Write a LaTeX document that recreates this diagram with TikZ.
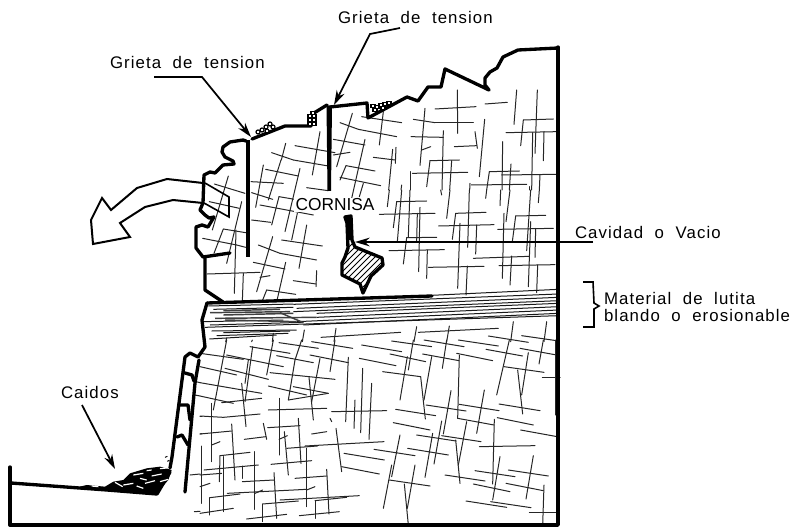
\documentclass[tikz,border=0pt]{standalone}
\usepackage{fontspec}
\setmainfont[LetterSpace=6.5,WordSpace=2]{Liberation Sans}
\usetikzlibrary{arrows.meta}
\tikzset{
  crack/.style={line width=.75pt,black!85,line cap=round},
  thickline/.style={line width=2.5pt,line join=round,line cap=round},
  midline/.style={line width=1.5pt,line join=round,line cap=round},
  leader/.style={line width=1.3pt,line join=miter,-{Stealth[length=11pt,width=6.5pt]}},
  label/.style={inner sep=0pt,outer sep=0pt,anchor=west,font=\fontsize{12.6}{13}\selectfont},
  layer/.style={line width=.75pt,black!90},
  layerb/.style={line width=1.1pt,black!75},
}
\newcommand\crackset[3]{\begin{scope}[xshift=#1*.75pt,yshift=-#2*.75pt,x=.25pt,y=-.25pt]
\foreach \a/\b/\c/\d in {#3}{\draw[crack] (\a,\b)--(\c,\d);}\end{scope}}
\begin{document}
\begin{tikzpicture}[x=.75pt,y=-.75pt]
\useasboundingbox (0,0) rectangle (795,527);
\fill[white] (0,0) rectangle (795,527);
% ---- fractures: lower block
\crackset{200}{340}{0/40/130/58,80/45/250/80,150/20/270/40,158/20/135/185,145/60/135/130,80/0/40/210,0/80/110/105,75/85/205/118,220/0/200/105,237/8/355/25,305/0/285/60,285/60/265/180,230/47/340/68,210/98/405/118,335/5/458/25,405/0/390/95,330/45/445/68,445/52/437/245,360/55/335/185,327/112/340/240,265/180/385/160,280/140/385/160,205/138/320/165,0/128/185/160,125/130/138/260,0/168/100/190,65/188/185/175,35/190/35/365,0/228/70/232,70/232/180/222,205/210/380/205,237/175/237/345,203/263/300/257,295/235/303/370,190/250/200/298,133/298/197/290,335/282/380/275,95/252/105/420,0/282/95/273,35/315/60/305,60/347/150/337,60/347/58/425,12/390/175/375,128/378/128/415,0/405/65/400,162/335/162/508,3/318/3/490,0/440/30/430,30/473/120/462,28/473/28/525,70/350/70/515,0/520/100/505,82/460/320/448,127/425/222/420,222/398/230/535,165/460/188/450,188/492/295/483,186/492/186/545,140/537/260/523,240/480/478/467,285/415/380/408,380/388/387/522,320/325/320/500,320/450/345/440,345/482/440/472,345/482/345/535,298/527/418/515,260/325/352/318,253/275/265/405,237/298/262/287,213/373/335/362,315/318/552/305,408/265/425/395,425/380/538/402,432/340/553/360,522/328/645/347,600/285/575/410,575/375/550/505,568/420/690/438,645/375/622/505,613/432/625/555,390/235/395/245,395/215/560/212,465/180/462/265,488/85/482/278,515/130/507/298,478/55/588/77,485/15/605/35,575/3/695/20,672/0/792/20,775/0/895/18,640/0/625/90,740/0/727/85,570/42/677/65,622/50/600/180,548/95/662/110,662/110/676/237,695/50/672/180,668/42/777/62,778/45/773/235,770/40/878/62,858/28/968/48,928/0/890/165,960/25/1070/45,1030/0/1017/72,985/38/965/165,953/90/968/222,912/80/1032/97,1027/113/1080/113,1065/0/1065/225,587/208/707/227,580/248/690/270,678/195/798/213,778/193/897/212,753/152/730/282,853/150/830/280,773/235/882/255,897/192/1020/212,892/233/1000/255,962/270/1072/290,725/243/702/372,698/280/675/412,650/285/768/303,725/287/843/305,623/325/745/345,767/300/780/430,800/245/775/375,883/238/878/432,838/320/1005/317,900/350/878/480,1000/347/978/477,825/392/945/410,925/390/1045/408,735/405/855/423,820/432/930/455,918/430/1030/452,1032/435/1028/555,988/517/1075/517,798/483/920/502,872/485/993/503}
% ---- short pieces above and left of that block
\crackset{190}{270}{110/205/107/215,187/210/185/215,250/190/247/215,343/180/337/215,438/175/432/215,393/202/632/187,685/187/925/175,680/170/672/215,778/168/770/215,970/155/962/215,1070/155/1062/215,895/198/1015/217,995/197/1100/212}
\crackset{0}{340}{588/125/600/128,585/165/600/168,570/405/600/402,583/515/600/514,600/228/606/228,600/282/606/281}
% ---- fractures: upper block
\crackset{340}{90}{65/80/185/98,0/98/55/118,55/118/170/140,130/65/118/165,75/148/35/325,100/202/165/210,158/178/146/300,168/172/166/220,18/227/105/243,18/227/0/270,0/262/122/287,70/280/58/320,185/285/183/300,220/88/285/98,285/98/400/98,255/55/240/226,285/57/408/50,352/0/353/130,213/140/310/142,310/122/306/300,245/180/272/170,343/170/410/167,405/125/412/175,435/42/502/37,434/88/418/260,530/0/522/103,592/0/585/190,550/90/640/87,550/90/542/167,498/128/652/125,578/128/575/300,612/125/610/212,270/212/358/210,270/212/260/290,335/212/329/300,217/250/383/247,212/245/212/300,488/155/486/300,448/245/538/243,448/245/440/300,485/255/648/253,513/222/508/300,600/253/598/300,393/285/560/283,390/280/389/300,568/290/568/300}
\crackset{340}{190}{148/0/142/50,185/0/172/155,210/0/205/140,170/35/260/33,170/35/160/113,118/73/285/70,240/52/236/245,232/70/230/155,200/143/290/142,200/143/190/222,147/182/313/179,262/180/260/265,265/232/432/229,302/0/305/15,330/0/320/85,388/0/383/172,347/70/438/67,347/70/337/148,296/108/462/104,360/100/353/295,410/105/407/192,382/228/378/315,440/0/437/25,482/0/480/47,510/0/498/95,527/78/617/76,527/78/517/155,473/118/640/115,492/70/487/265,572/0/560/182,598/0/595/38,572/95/565/290,587/115/585/202,400/205/567/199,515/198/510/285,477/227/645/224,593/225/590/308}
\crackset{180}{130}{275/68/340/90,340/90/445/108,317/40/304/90,345/47/465/68,420/5/397/135}
\crackset{180}{0}{517/340/470/500,460/418/555/435,460/465/510/457}
\crackset{80}{160}{403/72/495/100,515/98/578/118,445/48/397/210,388/125/478/145,485/125/440/310,430/207/497/218,430/207/402/280,468/210/463/400,368/235/470/255,470/255/497/262,382/342/540/337,490/340/487/425,550/15/527/142,513/65/610/70,557/28/655/48,603/0/565/120,660/25/615/215,680/83/745/92,540/135/700/165,597/110/575/195,597/110/685/125,515/180/572/187,652/160/635/240,680/195/657/325,605/240/727/258,578/230/530/395,535/255/600/280,600/280/710/300,520/307/615/327,617/307/592/417,540/352/570/347,640/362/708/372,710/332/708/380,560/390/647/403,560/390/548/420}
% ---- lutite layers
\begin{scope}[xshift=190*.75pt,yshift=-270*.75pt,x=.25pt,y=-.25pt]
\foreach \a/\b/\c/\d in {1105/58/725/76,1105/72/310/103,1105/82/320/115,1105/92/310/125,1105/100/380/130,1105/110/380/142,1105/120/320/155,1105/130/340/165,1105/137/45/172,55/108/310/102,70/118/310/112,40/155/280/150,60/165/340/157,65/183/320/180,100/188/300/183,80/197/295/190,58/207/260/195}
  {\draw[layer] (\a,\b)--(\c,\d);}
\foreach \a/\b/\c/\d in {100/122/270/118,60/128/300/125,100/135/310/130,75/145/380/142,105/150/320/155,270/128/340/158}
  {\draw[layerb] (\a,\b)--(\c,\d);}
\end{scope}
% ---- rock outline
\draw[thickline] (558,47)--(558,525)--(10,525)--(10,467);
\draw[thickline] (558,48)--(518,50)--(503,57)--(497,68)--(490,72)--(485,78)--(485,85)--(489,90)--(445,69)--(441,87)--(428,87)--(418,101)--(407,97)--(368,118)--(367,103)--(330,107);
\draw[thickline] (327,105)--(314,113)--(311,126)--(285,126)--(252,139);
\fill (326.5,105)--(332,106)--(331,191)--(327.5,191)--cycle;
\draw[line width=3.3pt] (248,140)--(248,257);
\draw[thickline] (246,141)--(243,140)--(230,142)--(223,147)--(222,152)--(225,157)--(233,161)--(234,164)--(223,165)--(215,173)--(210,172)--(204,175)--(203,203)--(200,210)--(205,215)--(209,218)--(214,217)--(208,227)--(202,225)--(196,227)--(196,248)--(203,257)--(230,253);
\draw[thickline] (205,257)--(205,290)--(223,302);
\draw[thickline] (207,303)--(432,296);
\draw[thickline] (207,303)--(202,320)--(205,347)--(198,357)--(190,353)--(185,357)--(172,457)--(170,468);
\draw[thickline] (199,360)--(195,383)--(185,492);
\draw[thickline] (185,373)--(192,375)--(194,381);
\draw[thickline] (180,405)--(188,405)--(190,420);
\draw[thickline] (177,437)--(182,435)--(188,445);
\draw[thickline] (11,483)--(107,490)--(157,494)--(170,472);
% ---- falling block arrow
\draw[midline,line join=miter] (203,183)--(167,179)--(137,188)--(111,210)--(102,198)--(91,220)--(93,244)--(130,237)--(120,223)--(145,207)--(173,200)--(203,203);
\draw[line width=1.2pt] (205,183)--(229,197)--(229,217)--(204,203);
% ---- debris at the foot
\begin{scope}[xshift=80*.75pt,yshift=-450*.75pt,x=.25pt,y=-.25pt]
\fill[black] (0,110)--(20,105)--(75,110)--(100,95)--(130,90)--(150,70)--(200,55)--(240,50)--(275,60)--(265,90)--(225,135)--(130,125)--(0,115)--cycle;
\foreach \x/\y/\u/\v in {160/75/190/70,130/105/160/100,195/100/225/92,240/95/265/88,200/62/215/60,240/56/260/54,105/97/128/110,180/85/200/90,215/78/245/72,170/108/190/115,35/108/55/110}
  {\draw[white,line width=.9pt] (\x,\y)--(\u,\v);}
\draw[line width=.7pt] (255,22)--(262,19) (262,34)--(268,31);
\end{scope}
% ---- rocks on the crest
\foreach \x/\y in {262/130,266/127,270/124,258/132,273/127,267/131}
  {\draw[line width=.9pt,fill=white] (\x,\y) circle (2);}
\foreach \x/\y in {310/116,314/116,310/120,314/120,310/124,314/124,313/113}
  {\draw[line width=.8pt,fill=white] (\x-2,\y-1.8) rectangle (\x+2,\y+1.8);}
\foreach \x/\y in {373/106,377/107,381/105,385/104,389/103,375/110,383/108}
  {\draw[line width=.8pt,fill=white] (\x-2,\y-1.8) rectangle (\x+2,\y+1.8);}
% ---- cavity
\begin{scope}
\clip (345,217)--(351,216)--(352,240)--(355,247)--(382,258)--(383,265)--(371,276)--(363,293)--(360,284)--(342,275)--(342,263)--(345,257)--(348,248)--(347,223)--cycle;
\foreach \i in {-4,...,10}{\draw[line width=.7pt] (330+6*\i,290)--++(50,-50);}
\end{scope}
\draw[thickline] (345,217)--(351,216)--(352,240)--(355,247)--(382,258)--(383,265)--(371,276)--(363,293)--(360,284)--(342,275)--(342,263)--(345,257)--(348,248)--(347,223)--cycle;
\fill (346,218) rectangle (351,240);
% ---- brace
\draw[line width=1.2pt,line join=miter] (583,282)--(593,282)--(594,303)--(599,306)--(594,309)--(594,327)--(583,327);
% ---- labels and leaders
\node[label] (g1) at (110,62) {Grieta de tension};
\node[label] (g2) at (338,17) {Grieta de tension};
\node[label] (cav) at (575,232) {Cavidad o Vacio};
\node[label] (mat) at (604,298) {Material de lutita};
\node[label] (bla) at (604,315) {blando o erosionable};
\node[label] (cai) at (61,392) {Caidos};
\node[inner sep=1pt,outer sep=0pt,anchor=center,fill=white,font=\fontsize{13}{13}\addfontfeature{LetterSpace=0}\selectfont] (cor) at (335,205) {CORNISA};
\coordinate (a1s) at (154,77);
\coordinate (a1m) at (202,77);
\coordinate (a1e) at (251,137);
\coordinate (a2s) at (400,28);
\coordinate (a2m) at (370,34);
\coordinate (a2e) at (334,105);
\coordinate (a3s) at (593,242);
\coordinate (a3e) at (355,242);
\coordinate (a4s) at (82,405);
\coordinate (a4e) at (115,469);
\draw[leader] (a1s)--(a1m)--(a1e);
\draw[leader] (a2s)--(a2m)--(a2e);
\draw[leader] (a3s)--(a3e);
\draw[leader] (a4s)--(a4e);
\end{tikzpicture}
\end{document}
